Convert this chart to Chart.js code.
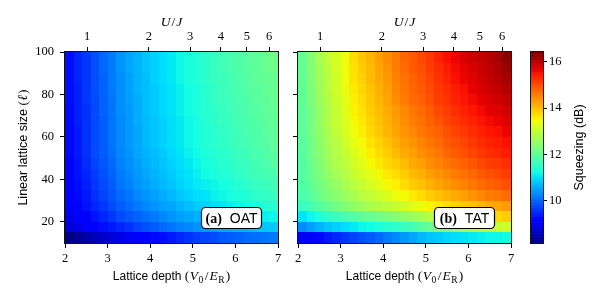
<!DOCTYPE html>
<html><head><meta charset="utf-8">
<script src="https://cdn.jsdelivr.net/npm/chart.js@4.4.1/dist/chart.umd.min.js"></script>
<style>
html,body{margin:0;padding:0;background:#fff;}
#wrap{position:relative;width:600px;height:300px;background:#fff;}
canvas{position:absolute;left:0;top:0;}
</style></head><body>
<div id="wrap">
<canvas id="cOAT" width="600" height="300"></canvas>
<canvas id="cTAT" width="600" height="300"></canvas>
<canvas id="cBar" width="600" height="300"></canvas>
</div>
<script>
// ---------- data ----------
const latticeDepth = [2.1,2.3,2.5,2.7,2.9,3.1,3.3,3.5,3.7,3.9,4.1,4.3,4.5,4.7,4.9,5.1,5.3,5.5,5.7,5.9,6.1,6.3,6.5,6.7,6.9];
const latticeSize = [12.5,17.5,22.5,27.5,32.5,37.5,42.5,47.5,52.5,57.5,62.5,67.5,72.5,77.5,82.5,87.5,92.5,97.5];
const depthTicks = [2,3,4,5,6,7];
const sizeTicks = [20,40,60,80,100];
const uOverJTicks = [1,2,3,4,5,6];
const uOverJAtDepth = [2.52,3.97,4.94,5.66,6.27,6.79];
const squeezeTicks = [10,12,14,16];
const squeezeRange = [8.17,16.43];

// squeezing (dB), one row per lattice size (bottom row first), one value per lattice depth
const oatSqueezing = [
[8.2,8.3,8.45,8.6,8.7,8.8,8.9,9.0,9.05,9.15,9.25,9.3,9.4,9.5,9.6,9.7,9.75,9.8,9.9,9.95,10.0,10.05,10.1,10.15,10.2],
[8.8,8.9,9.05,9.15,9.3,9.4,9.5,9.6,9.75,9.85,9.95,10.05,10.15,10.25,10.3,10.4,10.45,10.5,10.55,10.6,10.65,10.7,10.75,10.8,10.85],
[8.95,9.1,9.2,9.35,9.5,9.65,9.8,9.9,10.0,10.1,10.2,10.3,10.4,10.5,10.55,10.65,10.7,10.8,10.85,10.95,11.0,11.05,11.1,11.15,11.2],
[9.05,9.2,9.35,9.5,9.65,9.8,9.95,10.05,10.2,10.3,10.4,10.5,10.55,10.65,10.75,10.85,10.9,11.0,11.05,11.15,11.2,11.25,11.3,11.4,11.45],
[9.1,9.25,9.4,9.6,9.75,9.9,10.05,10.15,10.3,10.4,10.5,10.6,10.7,10.8,10.9,11.0,11.05,11.15,11.2,11.3,11.35,11.4,11.5,11.55,11.6],
[9.15,9.3,9.45,9.65,9.8,9.95,10.15,10.25,10.4,10.5,10.6,10.7,10.8,10.9,11.0,11.1,11.15,11.2,11.3,11.35,11.45,11.5,11.6,11.65,11.7],
[9.2,9.35,9.5,9.7,9.85,10.0,10.2,10.3,10.45,10.55,10.65,10.75,10.85,10.95,11.05,11.15,11.25,11.3,11.4,11.45,11.55,11.6,11.7,11.75,11.8],
[9.2,9.35,9.55,9.75,9.9,10.05,10.25,10.35,10.5,10.6,10.7,10.8,10.9,11.0,11.1,11.2,11.3,11.35,11.45,11.5,11.6,11.65,11.75,11.8,11.9],
[9.25,9.4,9.6,9.8,9.95,10.1,10.3,10.4,10.55,10.65,10.75,10.85,10.95,11.05,11.15,11.25,11.35,11.4,11.5,11.55,11.65,11.7,11.8,11.85,11.95],
[9.25,9.4,9.6,9.8,9.95,10.15,10.3,10.45,10.55,10.7,10.8,10.9,11.0,11.1,11.2,11.3,11.4,11.45,11.55,11.6,11.7,11.75,11.85,11.9,12.0],
[9.25,9.4,9.6,9.8,9.95,10.15,10.3,10.45,10.55,10.7,10.8,10.9,11.0,11.1,11.2,11.3,11.4,11.45,11.55,11.65,11.7,11.8,11.85,11.95,12.0],
[9.25,9.45,9.6,9.8,9.95,10.15,10.3,10.45,10.6,10.7,10.8,10.9,11.0,11.1,11.2,11.3,11.4,11.5,11.6,11.65,11.75,11.8,11.9,11.95,12.05],
[9.25,9.45,9.6,9.8,10.0,10.15,10.35,10.45,10.6,10.75,10.85,10.95,11.05,11.15,11.25,11.35,11.45,11.5,11.6,11.7,11.75,11.85,11.9,12.0,12.05],
[9.3,9.45,9.65,9.8,10.0,10.15,10.35,10.5,10.6,10.75,10.85,10.95,11.05,11.15,11.25,11.35,11.45,11.55,11.65,11.7,11.8,11.85,11.95,12.0,12.1],
[9.3,9.45,9.65,9.85,10.0,10.2,10.35,10.5,10.65,10.75,10.85,10.95,11.05,11.15,11.25,11.35,11.45,11.55,11.65,11.75,11.8,11.9,11.95,12.05,12.1],
[9.3,9.5,9.65,9.85,10.0,10.2,10.35,10.5,10.65,10.75,10.9,11.0,11.1,11.2,11.3,11.4,11.5,11.6,11.65,11.75,11.85,11.9,12.0,12.05,12.1],
[9.3,9.5,9.65,9.85,10.05,10.2,10.4,10.55,10.65,10.8,10.9,11.0,11.1,11.2,11.3,11.4,11.5,11.6,11.7,11.8,11.85,11.95,12.0,12.1,12.15],
[9.3,9.5,9.65,9.85,10.05,10.2,10.4,10.55,10.65,10.8,10.9,11.0,11.1,11.2,11.3,11.4,11.5,11.6,11.7,11.8,11.85,11.95,12.0,12.1,12.15]
];
const tatSqueezing = [
[9.0,9.15,9.25,9.4,9.5,9.65,9.75,9.85,9.95,10.05,10.2,10.3,10.45,10.55,10.7,10.8,10.85,10.95,11.0,11.05,11.1,11.15,11.2,11.2,11.25],
[10.35,10.5,10.65,10.8,10.9,11.0,11.1,11.2,11.25,11.35,11.45,11.5,11.6,11.75,11.95,12.1,12.25,12.35,12.5,12.6,12.75,12.85,12.95,13.05,13.15],
[11.05,11.2,11.35,11.5,11.65,11.75,11.9,12.0,12.1,12.2,12.3,12.4,12.5,12.65,12.75,12.9,13.0,13.15,13.25,13.35,13.5,13.6,13.7,13.8,13.9],
[11.6,11.75,11.9,12.05,12.2,12.35,12.5,12.6,12.75,12.85,12.95,13.05,13.15,13.3,13.4,13.55,13.65,13.75,13.85,13.95,14.0,14.1,14.2,14.25,14.35],
[11.8,11.95,12.15,12.3,12.45,12.6,12.75,12.9,13.0,13.15,13.25,13.4,13.5,13.65,13.75,13.9,14.0,14.1,14.2,14.3,14.4,14.5,14.6,14.65,14.75],
[11.85,12.05,12.2,12.4,12.55,12.75,12.9,13.05,13.2,13.35,13.5,13.6,13.75,13.9,14.0,14.15,14.25,14.35,14.45,14.55,14.65,14.75,14.85,14.9,15.0],
[11.9,12.1,12.3,12.5,12.7,12.85,13.05,13.2,13.35,13.5,13.65,13.75,13.9,14.05,14.15,14.3,14.4,14.5,14.6,14.7,14.8,14.9,15.0,15.05,15.15],
[11.9,12.15,12.35,12.6,12.8,12.95,13.15,13.3,13.5,13.65,13.8,13.9,14.05,14.2,14.3,14.45,14.55,14.65,14.75,14.85,14.95,15.05,15.15,15.2,15.3],
[11.95,12.2,12.4,12.65,12.85,13.05,13.25,13.4,13.6,13.75,13.9,14.05,14.2,14.3,14.45,14.55,14.65,14.8,14.9,15.0,15.1,15.2,15.3,15.35,15.45],
[11.95,12.2,12.45,12.7,12.9,13.15,13.35,13.5,13.7,13.85,14.0,14.15,14.3,14.4,14.55,14.65,14.75,14.9,15.0,15.1,15.2,15.3,15.4,15.45,15.55],
[12.0,12.25,12.5,12.75,13.0,13.2,13.45,13.6,13.8,13.95,14.1,14.25,14.4,14.5,14.65,14.75,14.85,15.0,15.1,15.2,15.3,15.4,15.5,15.55,15.65],
[12.0,12.25,12.55,12.8,13.05,13.25,13.5,13.65,13.85,14.0,14.15,14.3,14.45,14.6,14.7,14.85,14.95,15.1,15.2,15.3,15.4,15.5,15.6,15.65,15.75],
[12.0,12.25,12.55,12.8,13.05,13.3,13.55,13.7,13.9,14.05,14.2,14.35,14.5,14.65,14.75,14.9,15.05,15.15,15.3,15.4,15.5,15.6,15.7,15.75,15.85],
[12.05,12.3,12.6,12.85,13.1,13.35,13.6,13.75,13.95,14.1,14.25,14.45,14.6,14.75,14.85,15.0,15.15,15.25,15.4,15.5,15.6,15.7,15.8,15.85,15.95],
[12.05,12.35,12.6,12.9,13.15,13.4,13.65,13.8,14.0,14.15,14.3,14.5,14.65,14.8,14.9,15.05,15.2,15.3,15.45,15.55,15.7,15.8,15.9,15.95,16.05],
[12.1,12.35,12.65,12.9,13.15,13.45,13.7,13.85,14.05,14.2,14.35,14.55,14.7,14.85,14.95,15.1,15.25,15.4,15.55,15.65,15.75,15.85,15.95,16.05,16.15],
[12.1,12.4,12.65,12.95,13.2,13.45,13.7,13.9,14.05,14.25,14.4,14.6,14.75,14.9,15.0,15.15,15.3,15.45,15.6,15.7,15.8,15.9,16.0,16.1,16.25],
[12.1,12.4,12.7,13.0,13.2,13.45,13.75,13.95,14.1,14.3,14.45,14.6,14.8,14.9,15.05,15.2,15.4,15.55,15.65,15.8,15.9,15.95,16.05,16.15,16.35]
];

// ---------- styling helpers ----------
const SANS = '"Liberation Sans", Arial, sans-serif';
const SERIF = '"Liberation Serif", "Times New Roman", serif';
const tickFont = {family: SERIF, size: 12.5};

function jetChannel(t, pts){
  for (let i = 1; i < pts.length; i++){
    if (t <= pts[i][0]){
      const [t0,v0] = pts[i-1], [t1,v1] = pts[i];
      return v0 + (v1 - v0) * (t - t0) / (t1 - t0);
    }
  }
  return pts[pts.length-1][1];
}
function jetColor(v){
  let t = (v - squeezeRange[0]) / (squeezeRange[1] - squeezeRange[0]);
  t = Math.max(0, Math.min(1, t));
  const r = jetChannel(t, [[0,0],[0.35,0],[0.66,1],[0.89,1],[1,0.5]]);
  const g = jetChannel(t, [[0,0],[0.125,0],[0.375,1],[0.64,1],[0.91,0],[1,0]]);
  const b = jetChannel(t, [[0,0.5],[0.11,1],[0.34,1],[0.65,0],[1,0]]);
  return `rgb(${Math.round(r*255)},${Math.round(g*255)},${Math.round(b*255)})`;
}
function edges(centers){
  const e = [];
  for (let i = 0; i < centers.length; i++){
    const lo = i === 0 ? centers[0] - (centers[1]-centers[0])/2 : (centers[i-1]+centers[i])/2;
    e.push(lo);
  }
  const n = centers.length;
  e.push(centers[n-1] + (centers[n-1]-centers[n-2])/2);
  return e;
}

function drawRich(ctx, segs, cx, baseY, rotate){
  ctx.save();
  ctx.translate(cx, baseY);
  if (rotate) ctx.rotate(-Math.PI/2);
  ctx.textBaseline = 'alphabetic';
  ctx.textAlign = 'left';
  ctx.fillStyle = '#000';
  let total = 0;
  segs.forEach(s => { ctx.font = s.font; s.w = ctx.measureText(s.text).width + (s.gap || 0); total += s.w; });
  let x = -total/2;
  segs.forEach(s => { ctx.font = s.font; ctx.fillText(s.text, x, s.dy || 0); x += s.w; });
  ctx.restore();
}

function heatmapPlugin(grid){
  return {
    id: 'heatmap',
    beforeDatasetsDraw(chart){
      const {ctx, chartArea: a} = chart;
      const xs = chart.scales.x, ys = chart.scales.y;
      const xe = edges(latticeDepth), ye = edges(latticeSize);
      ctx.save();
      ctx.beginPath(); ctx.rect(a.left, a.top, a.right - a.left, a.bottom - a.top); ctx.clip();
      for (let r = 0; r < latticeSize.length; r++){
        for (let c = 0; c < latticeDepth.length; c++){
          const v = grid[r][c];
          if (v === undefined) continue;
          const x0 = Math.round(xs.getPixelForValue(xe[c])), x1 = Math.round(xs.getPixelForValue(xe[c+1]));
          const y0 = Math.round(ys.getPixelForValue(ye[r])), y1 = Math.round(ys.getPixelForValue(ye[r+1]));
          ctx.fillStyle = jetColor(v);
          ctx.fillRect(x0, y1, x1 - x0, y0 - y1);
        }
      }
      ctx.restore();
    }
  };
}
const framePlugin = {
  id: 'frame',
  afterDraw(chart){
    const {ctx, chartArea: a} = chart;
    ctx.save();
    ctx.strokeStyle = '#111'; ctx.lineWidth = 1;
    ctx.strokeRect(a.left - 0.5, a.top - 0.5, a.right - a.left + 1, a.bottom - a.top + 1);
    ctx.restore();
  }
};
function tagPlugin(tag, name){
  return {
    id: 'tag',
    afterDraw(chart){
      const {ctx, chartArea: a} = chart;
      const w = 60, h = 21;
      const x = a.right - 17 - w, y = a.bottom - 15 - h;
      ctx.save();
      ctx.beginPath();
      ctx.roundRect(x + 0.5, y + 0.5, w, h, 4);
      ctx.fillStyle = '#fff'; ctx.fill();
      ctx.strokeStyle = '#000'; ctx.lineWidth = 1.2; ctx.stroke();
      ctx.restore();
      drawRich(ctx, [
        {text: tag, font: 'bold 14px ' + SERIF, gap: 8},
        {text: name, font: '14px ' + SANS}
      ], x + w/2 + 0.5, y + h/2 + 5.5, false);
    }
  };
}
function titlesPlugin(withY){
  return {
    id: 'titles',
    afterDraw(chart){
      const {ctx, chartArea: a} = chart;
      const cx = (a.left + a.right) / 2;
      drawRich(ctx, [
        {text: 'Lattice depth ', font: '12px ' + SANS},
        {text: '(', font: '13.5px ' + SERIF, gap: 0.5},
        {text: 'V', font: 'italic 13.5px ' + SERIF, gap: 0.5},
        {text: '0', font: '9.5px ' + SERIF, dy: 2.5, gap: 1.5},
        {text: '/', font: '13.5px ' + SERIF, gap: 1},
        {text: 'E', font: 'italic 13.5px ' + SERIF, gap: 0.5},
        {text: 'R', font: '9.5px ' + SERIF, dy: 2.5, gap: 1},
        {text: ')', font: '13.5px ' + SERIF}
      ], cx, 280, false);
      drawRich(ctx, [
        {text: 'U', font: 'italic 13.5px ' + SERIF, gap: 1},
        {text: '/', font: '13.5px ' + SERIF, gap: 1},
        {text: 'J', font: 'italic 13.5px ' + SERIF}
      ], cx, 26, false);
      if (withY){
        drawRich(ctx, [
          {text: 'Linear lattice size ', font: '12.5px ' + SANS},
          {text: '(', font: '13.5px ' + SERIF, gap: 0.5},
          {text: 'ℓ', font: 'italic 13.5px ' + SERIF, gap: 1},
          {text: ')', font: '13.5px ' + SERIF}
        ], 26.5, (a.top + a.bottom) / 2, true);
      }
    }
  };
}

const gridStyle = {drawOnChartArea: false, tickLength: 5, color: '#000', tickColor: '#000', lineWidth: 1};

function panelConfig(grid, o){
  return {
    type: 'scatter',
    data: {datasets: [{data: []}]},
    options: {
      responsive: false, animation: false, devicePixelRatio: 1,
      layout: {padding: {left: o.padLeft, right: o.padRight, top: 0, bottom: 0}},
      plugins: {legend: {display: false}, tooltip: {enabled: false}},
      scales: {
        x: {
          type: 'linear', position: 'bottom', min: 2, max: 7,
          afterBuildTicks: s => { s.ticks = depthTicks.map(v => ({value: v})); },
          ticks: {font: tickFont, color: '#000', padding: 3, autoSkip: false, maxRotation: 0},
          grid: gridStyle, border: {display: false},
          afterFit: s => { s.height = 57; }
        },
        xTop: {
          type: 'linear', position: 'top', min: 2, max: 7,
          afterBuildTicks: s => { s.ticks = uOverJAtDepth.map(v => ({value: v})); },
          ticks: {font: tickFont, color: '#000', padding: 3, autoSkip: false, maxRotation: 0,
                  callback: (v, i) => String(uOverJTicks[i])},
          grid: gridStyle, border: {display: false},
          afterFit: s => { s.height = 52; }
        },
        y: {
          type: 'linear', position: 'left', min: 10, max: 100,
          afterBuildTicks: s => { s.ticks = sizeTicks.map(v => ({value: v})); },
          ticks: {font: tickFont, color: '#000', padding: 6, autoSkip: false,
                  callback: o.yLabels ? (v => String(v)) : (() => '')},
          grid: gridStyle, border: {display: false},
          afterFit: s => { s.width = o.yWidth; }
        }
      }
    },
    plugins: [heatmapPlugin(grid), framePlugin, tagPlugin(o.tag, o.name), titlesPlugin(o.yLabels)]
  };
}

new Chart(document.getElementById('cOAT'), panelConfig(oatSqueezing,
  {padLeft: 0, padRight: 322, yWidth: 65, yLabels: true, tag: '(a)', name: 'OAT'}));
new Chart(document.getElementById('cTAT'), panelConfig(tatSqueezing,
  {padLeft: 285, padRight: 89, yWidth: 13, yLabels: false, tag: '(b)', name: 'TAT'}));

const colorbarPlugin = {
  id: 'colorbar',
  beforeDatasetsDraw(chart){
    const {ctx, chartArea: a} = chart;
    const ys = chart.scales.y;
    const n = 256, lo = squeezeRange[0], hi = squeezeRange[1];
    for (let i = 0; i < n; i++){
      const v0 = lo + (hi - lo) * i / n, v1 = lo + (hi - lo) * (i + 1) / n;
      const p0 = ys.getPixelForValue(v0), p1 = ys.getPixelForValue(v1);
      ctx.fillStyle = jetColor((v0 + v1) / 2);
      ctx.fillRect(a.left, p1, a.right - a.left, p0 - p1 + 0.6);
    }
  },
  afterDraw(chart){
    const {ctx, chartArea: a} = chart;
    drawRich(ctx, [{text: 'Squeezing (dB)', font: '12.5px ' + SANS}], 582.5, (a.top + a.bottom) / 2, true);
  }
};
new Chart(document.getElementById('cBar'), {
  type: 'scatter',
  data: {datasets: [{data: []}]},
  options: {
    responsive: false, animation: false, devicePixelRatio: 1,
    layout: {padding: {left: 531, right: 0, top: 52, bottom: 57}},
    plugins: {legend: {display: false}, tooltip: {enabled: false}},
    scales: {
      x: {display: false, min: 0, max: 1},
      y: {
        type: 'linear', position: 'right', min: squeezeRange[0], max: squeezeRange[1],
        afterBuildTicks: s => { s.ticks = squeezeTicks.map(v => ({value: v})); },
        ticks: {font: tickFont, color: '#000', padding: 2, autoSkip: false},
        grid: {drawOnChartArea: false, tickLength: 4, color: '#000', tickColor: '#000'},
        border: {display: false},
        afterFit: s => { s.width = 57; }
      }
    }
  },
  plugins: [colorbarPlugin, framePlugin]
});
</script>
</body></html>
